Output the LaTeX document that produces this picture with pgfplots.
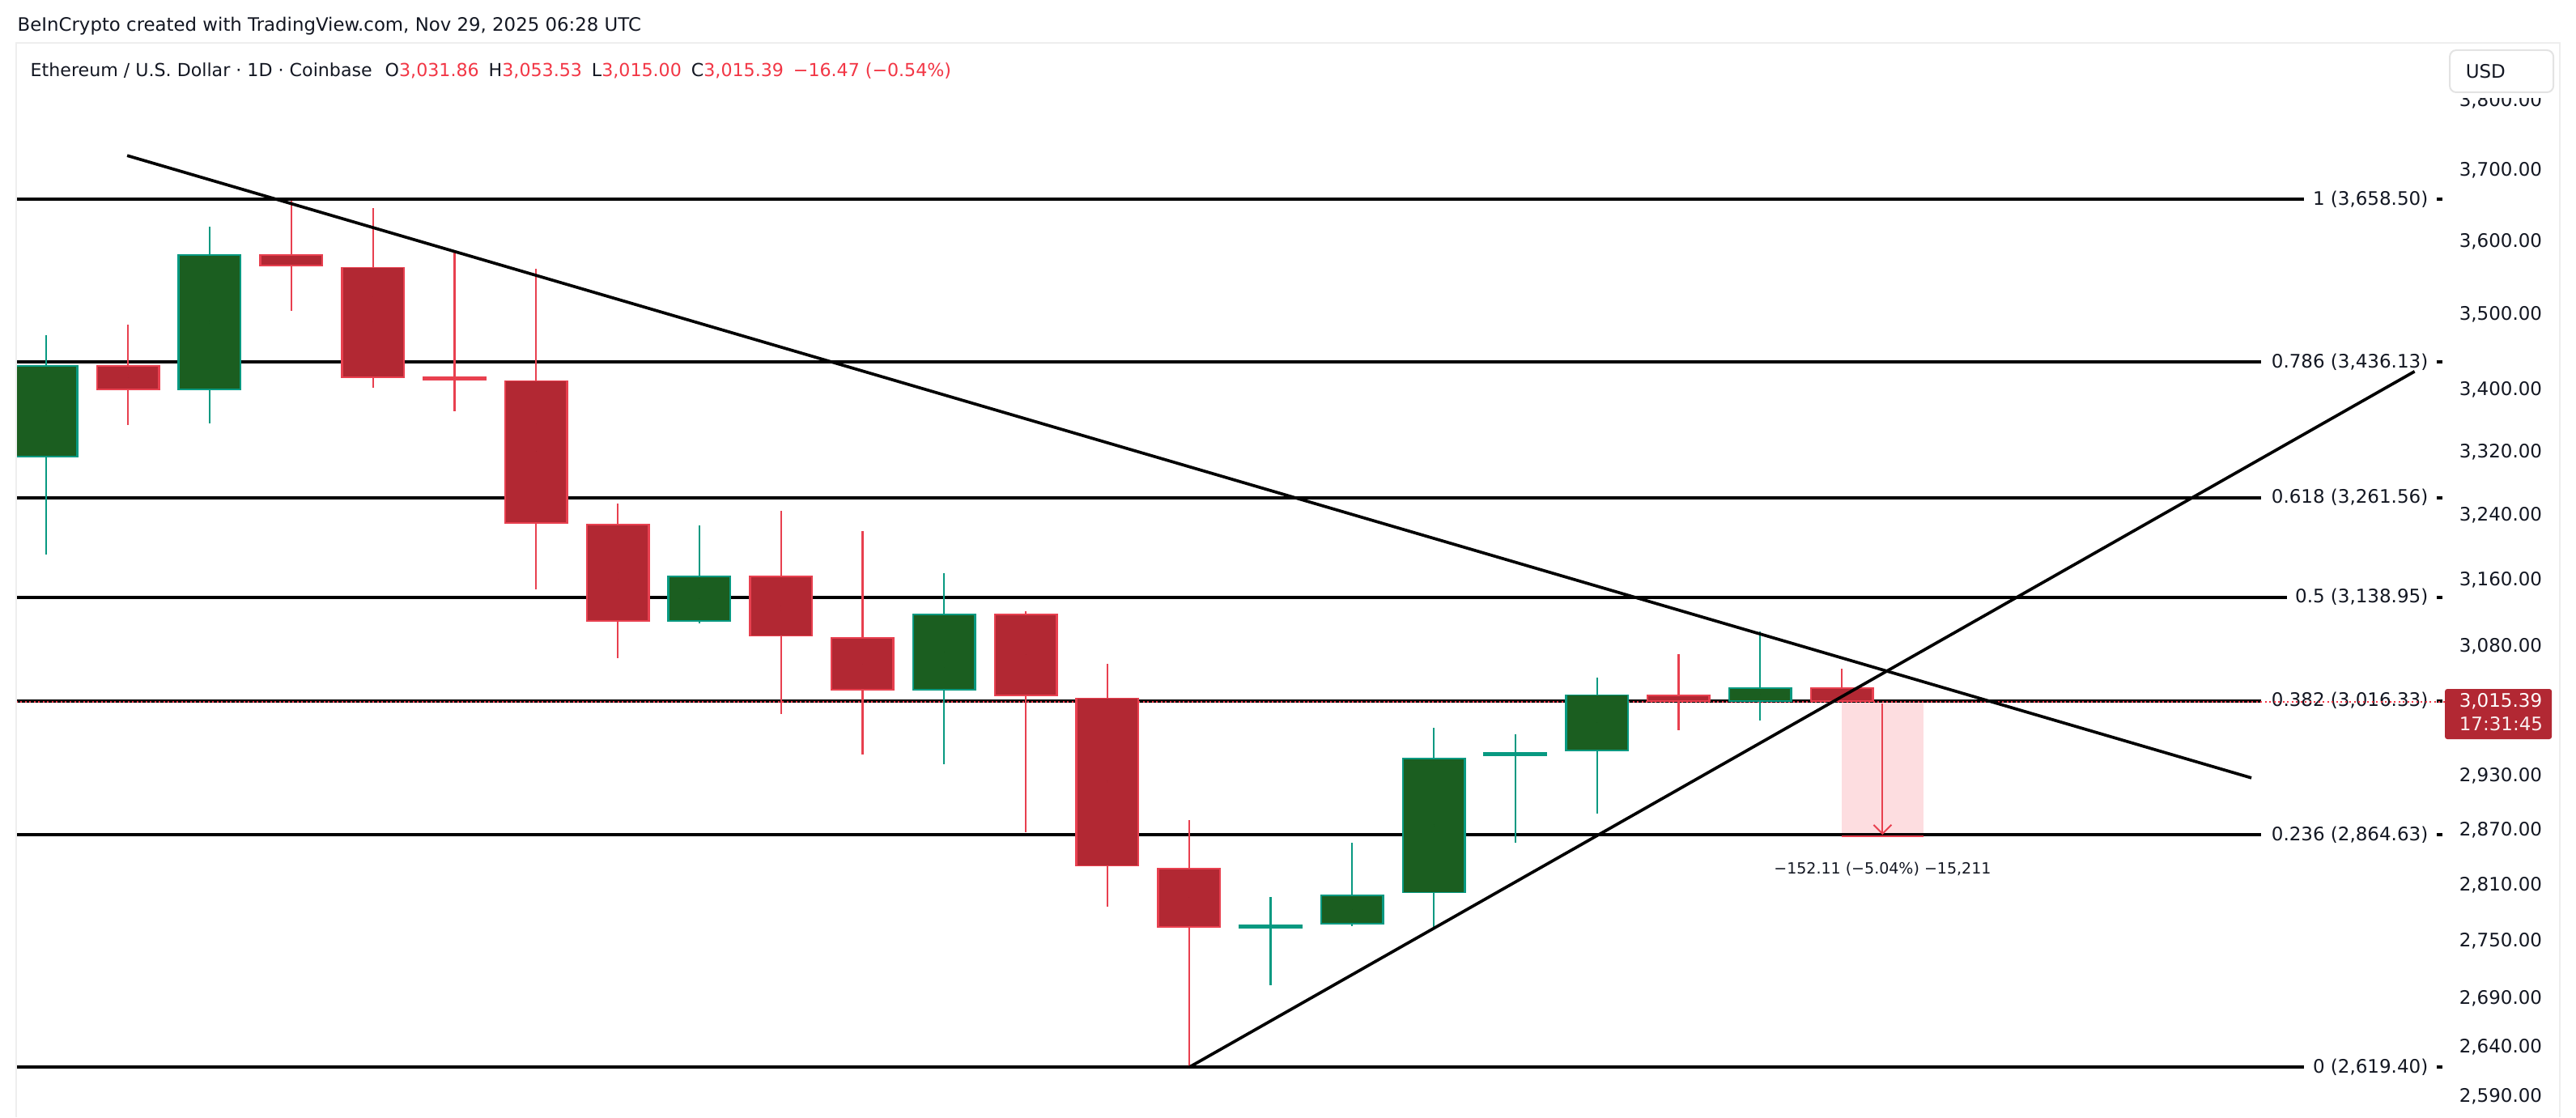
\documentclass[border=0pt]{standalone}
\usepackage{fontspec}
\setmainfont{DejaVu Sans}
\usepackage{pgfplots}
\pgfplotsset{compat=1.18}
\usepackage{pgfplotstable}
\usetikzlibrary{arrows.meta}

\definecolor{gbody}{HTML}{1B5E20}
\definecolor{gline}{HTML}{089981}
\definecolor{rbody}{HTML}{B22833}
\definecolor{rline}{HTML}{E8404F}
\definecolor{tvtext}{HTML}{131722}
\definecolor{tvred}{HTML}{F23645}
\definecolor{mpink}{HTML}{FDDDE0}
\definecolor{paneline}{HTML}{EEEEEE}

% i O H L C
\pgfplotstableread{
i O H L C
0 3312.2 3471.5 3190.5 3432.8
2 3399.4 3620.3 3355.9 3581.7
8 3109.3 3227.2 3107.8 3164.7
11 3028.1 3167.7 2943.4 3119.0
15 2764.4 2796.9 2703.1 2765.8
16 2767.8 2856.3 2765.5 2799.6
17 2800.9 2985.1 2763.1 2951.1
18 2953.2 2978.0 2855.6 2956.7
19 2958.2 3043.3 2887.8 3023.8
21 3015.39 3097.5 2993.6 3031.86
}\greencandles

\pgfplotstableread{
i O H L C
1 3432.8 3486.4 3354.3 3399.4
3 3581.7 3656.8 3504.8 3565.5
4 3564.6 3646.3 3402.6 3415.7
5 3415.7 3587.7 3371.9 3414.0
6 3412.4 3562.1 3148.9 3228.7
7 3228.7 3254.2 3066.6 3109.3
9 3164.7 3244.9 3000.8 3091.6
10 3090.9 3220.3 2954.6 3028.1
12 3119.0 3122.7 2867.8 3021.6
13 3020.2 3059.3 2786.3 2829.8
14 2828.5 2880.9 2619.4 2763.8
20 3023.8 3071.0 2982.9 3015.39
22 3031.86 3053.53 3015.00 3015.39
}\redcandles

\newcommand{\fa}{\fontsize{6.54}{7}\selectfont}
\newcommand{\fh}{\fontsize{6.5}{7}\selectfont}
\newcommand{\fl}{\fontsize{6.3}{7}\selectfont}
\newcommand{\fc}{\fontsize{5.41}{6}\selectfont}

\pgfplotsset{
  nomk/.style={only marks, mark=*, mark size=0pt, mark options={draw=none, fill=none}, forget plot},
  wick/.style={nomk,
    error bars/.cd, y dir=both, y explicit, error mark=none,
    error bar style={draw=#1, line width=0.22mm}},
  bodyo/.style={nomk,
    error bars/.cd, y dir=both, y explicit, error mark=none,
    error bar style={draw=#1, line width=7.9mm}},
  bodyi/.style={nomk,
    error bars/.cd, y dir=both, y explicit, error mark=none,
    error bar style={draw=#1, line width=7.4mm}},
}

\begin{document}
\begin{tikzpicture}
\useasboundingbox (0,0) rectangle (318.2mm,-138mm);
\fill[white] (0,0) rectangle (318.2mm,-138mm);

\begin{axis}[
  at={(2mm,-5.3mm)}, anchor=north west,
  width=300mm, height=132.7mm, scale only axis,
  xmin=-0.371, xmax=29.391,
  ymode=log, ymin=2569.9, ymax=3886.0,
  clip=false,
  axis line style={draw=none},
  tick style={draw=none},
  major tick length=0pt,
  xtick=\empty,
  ytick={2590,2640,2690,2750,2810,2870,2930,3080,3160,3240,3320,3400,3500,3600,3700,3800},
  yticklabels={{2,590.00},{2,640.00},{2,690.00},{2,750.00},{2,810.00},{2,870.00},{2,930.00},{3,080.00},{3,160.00},{3,240.00},{3,320.00},{3,400.00},{3,500.00},{3,600.00},{3,700.00},{3,800.00}},
  yticklabel pos=right,
  yticklabel style={anchor=west, inner sep=0pt, xshift=1.7mm, font=\fa, text=tvtext},
]

% measurement rectangle (behind)
\addplot[fill=mpink, draw=none, forget plot] coordinates {(22,3015.39) (23,3015.39) (23,2863.28) (22,2863.28)} -- cycle;

% Fibonacci levels
\addplot[black, line width=0.4mm] coordinates {(-0.371,3658.5) (27.664,3658.5)};
\addplot[black, line width=0.4mm] coordinates {(-0.371,3436.13) (27.138,3436.13)};
\addplot[black, line width=0.4mm] coordinates {(-0.371,3261.56) (27.138,3261.56)};
\addplot[black, line width=0.4mm] coordinates {(-0.371,3138.95) (27.455,3138.95)};
\addplot[black, line width=0.4mm] coordinates {(-0.371,3016.33) (27.138,3016.33)};
\addplot[black, line width=0.4mm] coordinates {(-0.371,2864.63) (27.138,2864.63)};
\addplot[black, line width=0.4mm] coordinates {(-0.371,2619.4) (27.664,2619.4)};
% small dashes at the right
\addplot[black, line width=0.4mm] coordinates {(29.29,3658.5) (29.36,3658.5)};
\addplot[black, line width=0.4mm] coordinates {(29.29,3436.13) (29.36,3436.13)};
\addplot[black, line width=0.4mm] coordinates {(29.29,3261.56) (29.36,3261.56)};
\addplot[black, line width=0.4mm] coordinates {(29.29,3138.95) (29.36,3138.95)};
\addplot[black, line width=0.4mm] coordinates {(29.29,3016.33) (29.36,3016.33)};
\addplot[black, line width=0.4mm] coordinates {(29.29,2864.63) (29.36,2864.63)};
\addplot[black, line width=0.4mm] coordinates {(29.29,2619.4) (29.36,2619.4)};

\node[anchor=east, inner sep=0pt, font=\fa, text=tvtext] at (axis cs:29.192,3658.5) {1 (3,658.50)};
\node[anchor=east, inner sep=0pt, font=\fa, text=tvtext] at (axis cs:29.192,3436.13) {0.786 (3,436.13)};
\node[anchor=east, inner sep=0pt, font=\fa, text=tvtext] at (axis cs:29.192,3261.56) {0.618 (3,261.56)};
\node[anchor=east, inner sep=0pt, font=\fa, text=tvtext] at (axis cs:29.192,3138.95) {0.5 (3,138.95)};
\node[anchor=east, inner sep=0pt, font=\fa, text=tvtext] at (axis cs:29.192,3016.33) {0.382 (3,016.33)};
\node[anchor=east, inner sep=0pt, font=\fa, text=tvtext] at (axis cs:29.192,2864.63) {0.236 (2,864.63)};
\node[anchor=east, inner sep=0pt, font=\fa, text=tvtext] at (axis cs:29.192,2619.4) {0 (2,619.40)};

% current price dotted line
\addplot[tvred, line width=0.2mm, dash pattern=on 0.2mm off 0.35mm] coordinates {(-0.371,3015.39) (29.391,3015.39)};

% candles: wicks
\addplot[wick=gline] table[x=i, y expr={(\thisrow{H}+\thisrow{L})/2}, y error expr={(\thisrow{H}-\thisrow{L})/2}] {\greencandles};
\addplot[wick=rline] table[x=i, y expr={(\thisrow{H}+\thisrow{L})/2}, y error expr={(\thisrow{H}-\thisrow{L})/2}] {\redcandles};
% bodies: border
\addplot[bodyo=gline] table[x=i, y expr={(\thisrow{O}+\thisrow{C})/2}, y error expr={max(abs(\thisrow{O}-\thisrow{C})/2, 0.0007*(\thisrow{O}+\thisrow{C})/2)}] {\greencandles};
\addplot[bodyo=rline] table[x=i, y expr={(\thisrow{O}+\thisrow{C})/2}, y error expr={max(abs(\thisrow{O}-\thisrow{C})/2, 0.0007*(\thisrow{O}+\thisrow{C})/2)}] {\redcandles};
% bodies: fill
\addplot[bodyi=gbody] table[x=i, y expr={(\thisrow{O}+\thisrow{C})/2}, y error expr={max(abs(\thisrow{O}-\thisrow{C})/2-0.0006*(\thisrow{O}+\thisrow{C})/2, 0)}] {\greencandles};
\addplot[bodyi=rbody] table[x=i, y expr={(\thisrow{O}+\thisrow{C})/2}, y error expr={max(abs(\thisrow{O}-\thisrow{C})/2-0.0006*(\thisrow{O}+\thisrow{C})/2, 0)}] {\redcandles};

% trend lines
\addplot[black, line width=0.37mm] coordinates {(0.989,3720.9) (27.02,2928.1)};
\addplot[black, line width=0.37mm] coordinates {(14.0,2619.4) (29.02,3423.7)};

% measurement tool
\addplot[rline, line width=0.2mm] coordinates {(22,2863.28) (23,2863.28)};
\addplot[rline, line width=0.2mm, -{Straight Barb[length=1.1mm,width=2.2mm]}] coordinates {(22.5,3013) (22.5,2864.5)};
\node[font=\fc, text=tvtext, inner sep=0pt] at (axis cs:22.5,2827.4) {−152.11 (−5.04\%) −15,211};
\end{axis}

\begin{scope}[x=0.1mm, y=-0.1mm]
  % left cut and pane border
  \fill[white] (0,53) rectangle (19,1380);
  \draw[paneline, line width=0.25mm] (20,1380) -- (20,53) -- (3162,53) -- (3162,1380);
  % hide top of the price scale under the currency box
  \fill[white] (3021,55) rectangle (3160,121);
  \draw[gray!22, fill=white, line width=0.2mm, rounded corners=0.8mm] (3026,62) rectangle (3154,114);
  \node[anchor=west, inner sep=0pt, font=\fa, text=tvtext] at (3045,88) {USD};
  % price label
  \fill[rbody, rounded corners=0.3mm] (3020,851) rectangle (3152,913);
  \node[anchor=west, inner sep=0pt, font=\fa, text=white] at (3037,866.5) {3,015.39};
  \node[anchor=west, inner sep=0pt, font=\fa, text=white!92!rbody] at (3037,894) {17:31:45};
  % header and legend
  \node[anchor=west, inner sep=0pt, font=\fh, text=tvtext] at (21,32) {BeInCrypto created with TradingView.com, Nov 29, 2025 06:28 UTC};
  \node[anchor=west, inner sep=0pt, font=\fl] at (37,88) {\color{tvtext}Ethereum / U.S. Dollar · 1D · Coinbase\hspace{1.6mm}O{\color{tvred}3,031.86}\hspace{1.2mm}H{\color{tvred}3,053.53}\hspace{1.2mm}L{\color{tvred}3,015.00}\hspace{1.2mm}C{\color{tvred}3,015.39}\hspace{1.2mm}{\color{tvred}−16.47 (−0.54\%)}};
\end{scope}
\end{tikzpicture}
\end{document}
